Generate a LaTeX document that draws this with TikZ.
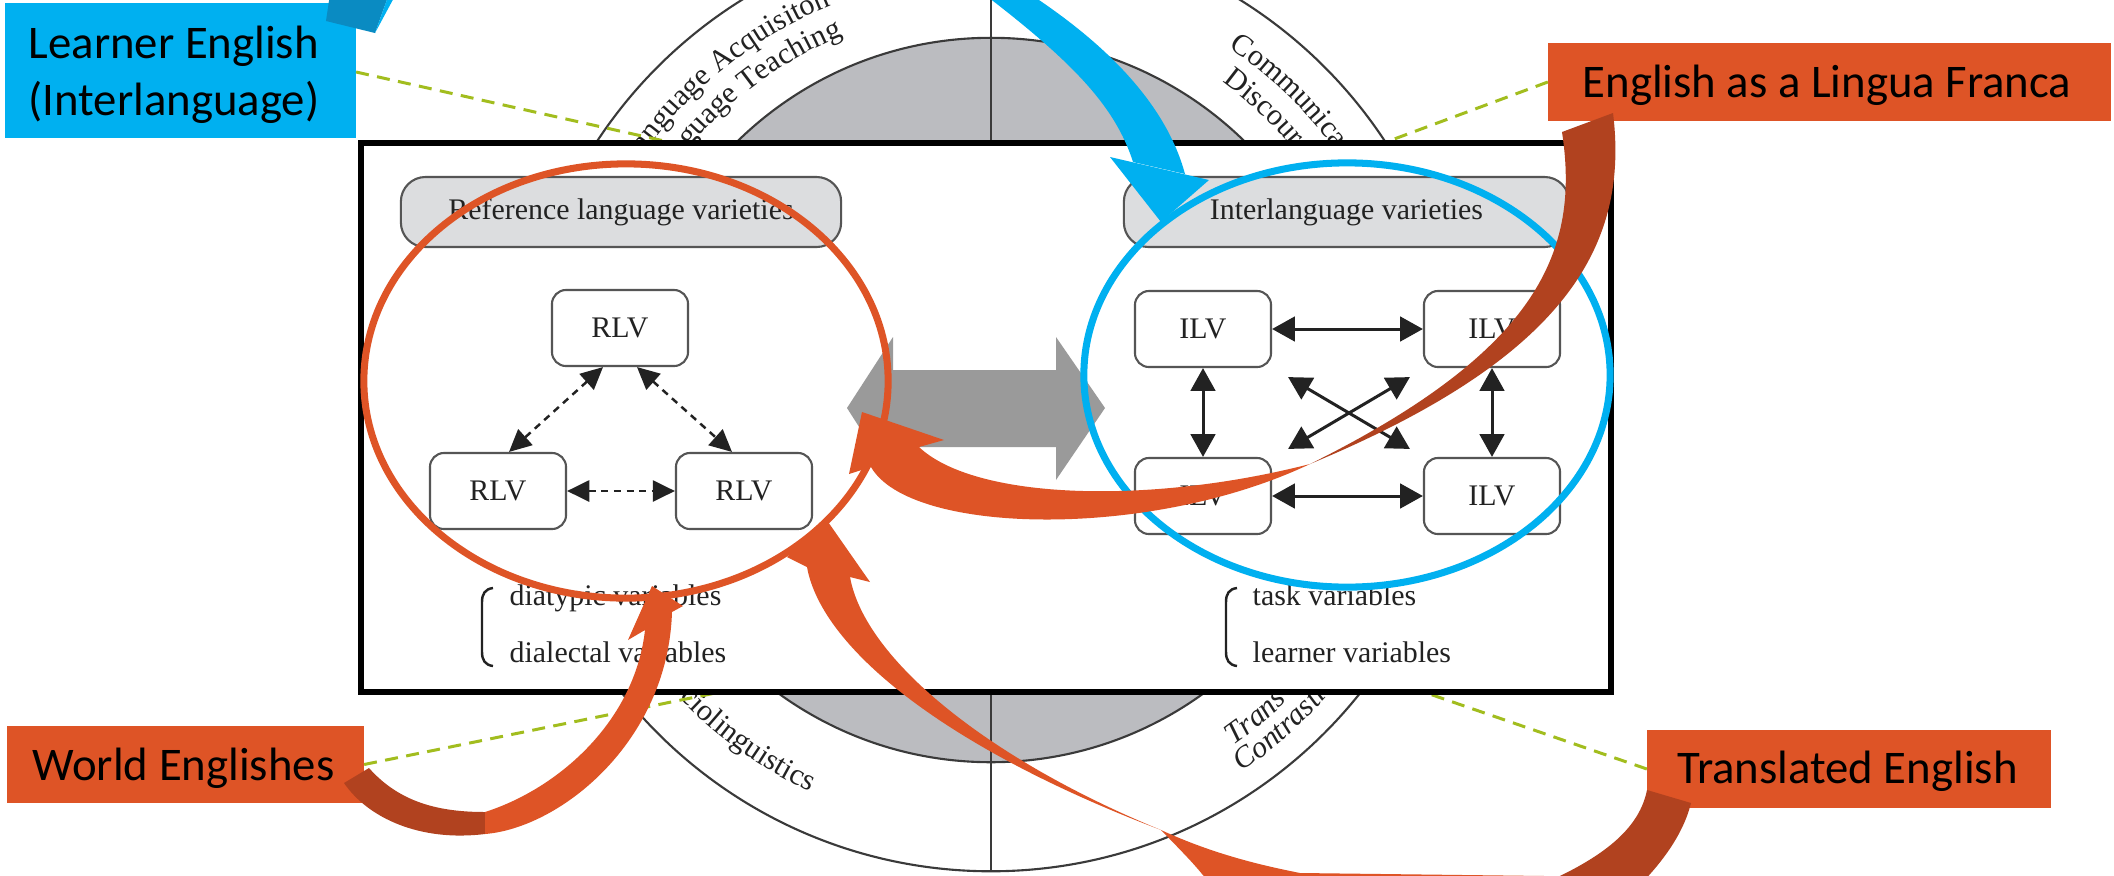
\documentclass[tikz,border=0pt]{standalone}
\usepackage{fontspec}
\setmainfont{Liberation Serif}
\newfontfamily\calfont{Carlito}
\usetikzlibrary{arrows.meta,decorations.text}

\definecolor{lblue}{HTML}{00B0F0}
\definecolor{dblue}{HTML}{0A8BC2}
\definecolor{orng}{HTML}{DE5426}
\definecolor{brwn}{HTML}{B1421F}
\definecolor{disk}{HTML}{BBBCC0}
\definecolor{hdrgray}{HTML}{DCDDDF}
\definecolor{lime}{HTML}{A2BD1E}
\definecolor{arrgray}{HTML}{9A9A9A}
\definecolor{ink}{HTML}{222222}
\definecolor{boxline}{HTML}{555555}
\definecolor{ringgray}{HTML}{3A3A3A}

\newcommand\innerfont{\fontsize{8.5}{10}\selectfont}
\newcommand\ringfont{\fontsize{8.6}{10}\selectfont}
\newcommand\calsize{\calfont\fontsize{13.3}{16}\selectfont}

\begin{document}
\begin{tikzpicture}[x=0.01cm, y=0.01cm,
  ivbox/.style={draw=boxline, line width=0.6pt, rounded corners=4pt, fill=white,
    minimum width=1.36cm, minimum height=0.76cm, inner sep=0pt, font=\innerfont, text=ink},
  hdr/.style={draw=boxline, line width=0.6pt, rounded corners=7pt, fill=hdrgray,
    minimum height=0.70cm, inner sep=0pt, font=\innerfont, text=ink},
  varlbl/.style={anchor=base west, inner sep=0pt, font=\innerfont, text=ink},
  dlink/.style={draw=ink, line width=0.7pt, dash pattern=on 2pt off 1.6pt,
    arrows={Triangle[length=6.3pt,width=6pt]-Triangle[length=6.3pt,width=6pt]}},
  slink/.style={draw=ink, line width=0.85pt,
    arrows={Triangle[length=6.5pt,width=7pt]-Triangle[length=6.5pt,width=7pt]}},
  tagbox/.style={inner sep=0pt, outer sep=0pt},
  tagtext/.style={anchor=base, inner sep=0pt, font=\calsize, text=black},
  leader/.style={draw=lime, line width=0.85pt, dash pattern=on 3.7pt off 2.4pt},
  ringline/.style={draw=ringgray, line width=0.6pt},
  brace/.style={draw=ink, line width=0.7pt},
  ringtext/.style={shift={(991,-400)}, decorate},
]

% page
\useasboundingbox (0,-875) rectangle (2114,0);
\fill[white] (0,-875) rectangle (2114,0);

% ---------- background: circle of fields ----------
\coordinate (C) at (991,-400);
\filldraw[ringline, fill=disk] (C) circle[radius=3.62cm];
\draw[ringline] (C) circle[radius=4.71cm];
\draw[ringline] (991,71) -- (991,-871);

\path[ringtext, decoration={text along path,
  text={|\ringfont\color{ink}|Language Acquisiton}}]
  (147:4.25cm) arc[start angle=147, end angle=60, radius=4.25cm];
\path[ringtext, decoration={text along path,
  text={|\ringfont\color{ink}|Language Teaching}}]
  (147:3.93cm) arc[start angle=147, end angle=60, radius=3.93cm];
\path[ringtext, decoration={text along path,
  text={|\ringfont\color{ink}|Communicat}}]
  (56:4.25cm) arc[start angle=56, end angle=-20, radius=4.25cm];
\path[ringtext, decoration={text along path,
  text={|\ringfont\color{ink}|Discour}}]
  (54:3.93cm) arc[start angle=54, end angle=-20, radius=3.93cm];
\path[ringtext, decoration={text along path,
  text={|\ringfont\color{ink}|ciolinguistics}}]
  (223.7:4.31cm) arc[start angle=223.7, end angle=290, radius=4.31cm];
\path[ringtext, decoration={text along path,
  text={|\ringfont\itshape\color{ink}|Trans}}]
  (305:4.22cm) arc[start angle=305, end angle=370, radius=4.22cm];
\path[ringtext, decoration={text along path,
  text={|\ringfont\itshape\color{ink}|Contrasti}}]
  (304:4.48cm) arc[start angle=304, end angle=370, radius=4.48cm];

% ---------- callout labels ----------
\node[tagbox, fill=lblue, minimum width=3.51cm, minimum height=1.35cm] (le) at (180.5,-70.5) {};
\node[tagtext, anchor=base west] (leT1) at (28,-58) {Learner English};
\node[tagtext, anchor=base west] (leT2) at (28,-115) {(Interlanguage)};

\node[tagbox, fill=orng, minimum width=5.63cm, minimum height=0.78cm] (elf) at (1829.5,-82) {};
\node[tagtext] (elfT) at (1827,-97) {English as a Lingua Franca};

\node[tagbox, fill=orng, minimum width=3.57cm, minimum height=0.77cm] (we) at (185.5,-764.5) {};
\node[tagtext] (weT) at (183.5,-780) {World Englishes};

\node[tagbox, fill=orng, minimum width=4.04cm, minimum height=0.78cm] (te) at (1849,-769) {};
\node[tagtext] (teT) at (1847.5,-783) {Translated English};

% leader lines from the labels
\coordinate (leEnd) at (700,-149);
\coordinate (elfEnd) at (1370,-148);
\coordinate (weEnd) at (740,-688);
\coordinate (teEnd) at (1415,-689);
\draw[leader] (le.east |- 0,-72) -- (leEnd);
\draw[leader] (elf.west) -- (elfEnd);
\draw[leader] (we.east) -- (weEnd);
\draw[leader] (te.west) -- (teEnd);

% ---------- framed model ----------
\draw[line width=1.6pt, fill=white] (361,-143) rectangle (1611,-692);

\node[hdr, minimum width=4.40cm] (refH) at (621,-212) {Reference language varieties};
\node[hdr, minimum width=4.45cm] (ilvH) at (1346.5,-212) {Interlanguage varieties};

\node[ivbox] (rlvT) at (620,-328) {RLV};
\node[ivbox] (rlvL) at (498,-491) {RLV};
\node[ivbox] (rlvR) at (744,-491) {RLV};

\draw[dlink] ([shift={(-17,0)}]rlvT.south) -- ([shift={(11,0)}]rlvL.north);
\draw[dlink] ([shift={(17,0)}]rlvT.south) -- ([shift={(-12,0)}]rlvR.north);
\draw[dlink] (rlvL.east) -- (rlvR.west);

\node[ivbox] (ilvTL) at (1203,-329) {ILV};
\node[ivbox] (ilvTR) at (1492,-329) {ILV};
\node[ivbox] (ilvBL) at (1203,-496) {ILV};
\node[ivbox] (ilvBR) at (1492,-496) {ILV};

\draw[slink] (ilvTL.east) -- (ilvTR.west);
\draw[slink] (ilvBL.east) -- (ilvBR.west);
\draw[slink] (ilvTL.south) -- (ilvBL.north);
\draw[slink] (ilvTR.south) -- (ilvBR.north);
\draw[slink] ([shift={(16,-9)}]ilvTL.south east) -- ([shift={(-13,8)}]ilvBR.north west);
\draw[slink] ([shift={(-13,-9)}]ilvTR.south west) -- ([shift={(16,8)}]ilvBL.north east);

% grey double arrow between the two groups
\fill[arrgray] (847,-408) -- (893,-337) -- (893,-370) -- (1056,-370) -- (1056,-337)
  -- (1105,-408) -- (1056,-480) -- (1056,-447) -- (893,-447) -- (893,-480) -- cycle;

% variable brackets and labels
\draw[brace] (493,-588) .. controls (485,-589) and (482,-594) .. (482,-602) -- (482,-652)
  .. controls (482,-660) and (485,-665) .. (493,-666);
\draw[brace] (1237,-588) .. controls (1229,-589) and (1226,-594) .. (1226,-602) -- (1226,-652)
  .. controls (1226,-660) and (1229,-665) .. (1237,-666);
\node[varlbl] (dia) at (509,-605) {diatypic variables};
\node[varlbl] (dil) at (509,-662) {dialectal variables};
\node[varlbl] (tsk) at (1252,-605) {task variables};
\node[varlbl] (lrn) at (1252,-662) {learner variables};

% ---------- highlight ellipses ----------
\draw[orng, line width=2pt] (626,-381) ellipse[x radius=2.62cm, y radius=2.17cm];
\draw[lblue, line width=2pt] (1347,-375) ellipse[x radius=2.63cm, y radius=2.12cm];

% ---------- curved block arrows ----------
% learner English -> interlanguage group
\fill[dblue] (326,-21) -- (330,6) -- (389,6) -- (375,-33) -- cycle;
\fill[lblue] (375,-33) -- (389,6) -- (396,6) -- cycle;
\fill[lblue] (984,6) .. controls (1070,-60) and (1115,-105) .. (1133,-162)
  -- (1185,-174) .. controls (1165,-100) and (1100,-40) .. (1030,6) -- cycle;
\fill[lblue] (1110,-157) -- (1161,-222) -- (1209,-180) -- cycle;

% lingua franca -> reference group
\fill[brwn] (1562,-132) -- (1613,-113) .. controls (1630,-250) and (1560,-360) .. (1310,-464)
  .. controls (1540,-350) and (1580,-250) .. (1562,-132) -- cycle;
\fill[orng] (1310,-464) .. controls (1150,-540) and (910,-535) .. (871,-467)
  -- (849,-474) -- (862,-412) -- (944,-440) -- (919,-447)
  .. controls (975,-500) and (1150,-505) .. (1310,-464) -- cycle;

% world Englishes -> reference group
\fill[brwn] (344,-783) -- (369,-768) .. controls (400,-803) and (440,-812) .. (485,-812)
  -- (485,-834) .. controls (420,-842) and (368,-818) .. (344,-783) -- cycle;
\fill[orng] (485,-812) .. controls (560,-788) and (635,-720) .. (645,-630)
  -- (628,-640) -- (652,-586) -- (683,-606) -- (672,-612)
  .. controls (668,-742) and (560,-828) .. (485,-834) -- cycle;

% translated English -> reference group
\fill[brwn] (1647,-790) -- (1691,-803) .. controls (1683,-835) and (1662,-862) .. (1640,-885)
  -- (1540,-885) .. controls (1610,-855) and (1640,-825) .. (1647,-790) -- cycle;
\fill[orng] (1161,-830) .. controls (950,-750) and (822,-650) .. (807,-567)
  -- (787,-557) -- (826,-519) -- (870,-582) -- (850,-577)
  .. controls (865,-660) and (990,-760) .. (1161,-830) -- cycle;
\fill[orng] (1161,-830) .. controls (1215,-855) and (1265,-866) .. (1300,-873)
  -- (1545,-876) -- (1545,-890) -- (1215,-890) .. controls (1195,-865) .. (1161,-830) -- cycle;

\end{tikzpicture}
\end{document}
